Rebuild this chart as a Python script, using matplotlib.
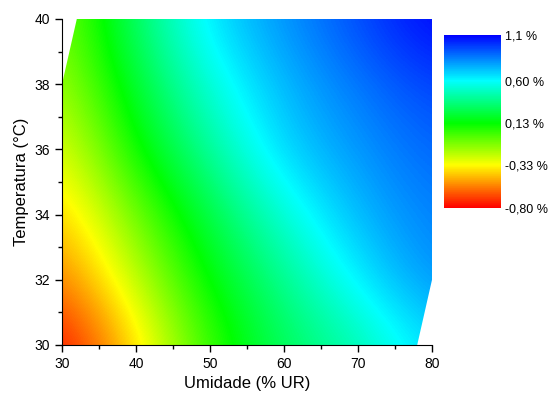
import numpy as np
import matplotlib
matplotlib.use("Agg")
import matplotlib.pyplot as plt
from matplotlib.colors import LinearSegmentedColormap, Normalize
from matplotlib.patches import Polygon
from matplotlib.ticker import MultipleLocator

plt.rcParams['font.family'] = ['Liberation Sans', 'DejaVu Sans']

# grid
umidade = [30, 40, 50, 60, 70, 80]          # % UR
temperatura = [30, 32, 34, 36, 38, 40]      # °C
# rows = temperatura, cols = umidade (values in %)
z_t30 = [-0.80, -0.40, 0.04, 0.30, 0.44, 0.67]
z_t32 = [-0.58, -0.22, 0.15, 0.39, 0.63, 0.82]
z_t34 = [-0.44, -0.07, 0.26, 0.53, 0.74, 0.85]
z_t36 = [-0.30, 0.12, 0.42, 0.69, 0.80, 0.90]
z_t38 = [-0.18, 0.23, 0.54, 0.74, 0.86, 0.97]
z_t40 = [-0.10, 0.33, 0.66, 0.81, 0.95, 1.10]

# measured domain outline (corners cut)
dom_u = [30, 78, 80, 80, 32, 30]
dom_t = [30, 30, 32, 40, 40, 38]

cbar_ticks = [-0.80, -0.33, 0.13, 0.60, 1.1]
cbar_labels = ["-0,80 %", "-0,33 %", "0,13 %", "0,60 %", "1,1 %"]

Z = np.array([z_t30, z_t32, z_t34, z_t36, z_t38, z_t40])

vmin, vmax = cbar_ticks[0], cbar_ticks[-1]
node_cols = ['#ff0000', '#ffff00', '#00ff00', '#00ffff', '#0000ff']
nodes = [(v - vmin) / (vmax - vmin) for v in cbar_ticks]
cmap = LinearSegmentedColormap.from_list('origin', list(zip(nodes, node_cols)))

fig = plt.figure(figsize=(5.49, 3.96), dpi=100)
ax = fig.add_axes([62/549, 51/396, 370/549, 326/396])

# pixel centres sit on the grid nodes
du = (umidade[1] - umidade[0]) / 2
dt = (temperatura[1] - temperatura[0]) / 2
ext = (umidade[0] - du, umidade[-1] + du, temperatura[0] - dt, temperatura[-1] + dt)
img = ax.imshow(Z, origin='lower', extent=ext, aspect='auto', cmap=cmap,
                norm=Normalize(vmin, vmax), interpolation='bicubic',
                interpolation_stage='data')
clip = Polygon(np.column_stack([dom_u, dom_t]), closed=True,
               transform=ax.transData, facecolor='none', edgecolor='none')
img.set_clip_path(clip)

ax.set_xlim(30, 80); ax.set_ylim(30, 40)
ax.spines['top'].set_visible(False)
ax.spines['right'].set_visible(False)
ax.xaxis.set_major_locator(MultipleLocator(10))
ax.xaxis.set_minor_locator(MultipleLocator(5))
ax.yaxis.set_major_locator(MultipleLocator(2))
ax.yaxis.set_minor_locator(MultipleLocator(1))
ax.tick_params(which='major', direction='out', length=5, width=1, labelsize=10)
ax.tick_params(which='minor', direction='out', length=3, width=1)
ax.set_xlabel("Umidade (% UR)", fontsize=12)
ax.set_ylabel("Temperatura (°C)", fontsize=12)

cax = fig.add_axes([444/549, (396-208)/396, 57/549, 173/396])
cb = fig.colorbar(img, cax=cax, ticks=cbar_ticks)
cb.set_ticklabels(cbar_labels)
cb.outline.set_visible(False)
cb.ax.tick_params(length=0, labelsize=9, pad=3)

fig.savefig("out.png", dpi=100)
